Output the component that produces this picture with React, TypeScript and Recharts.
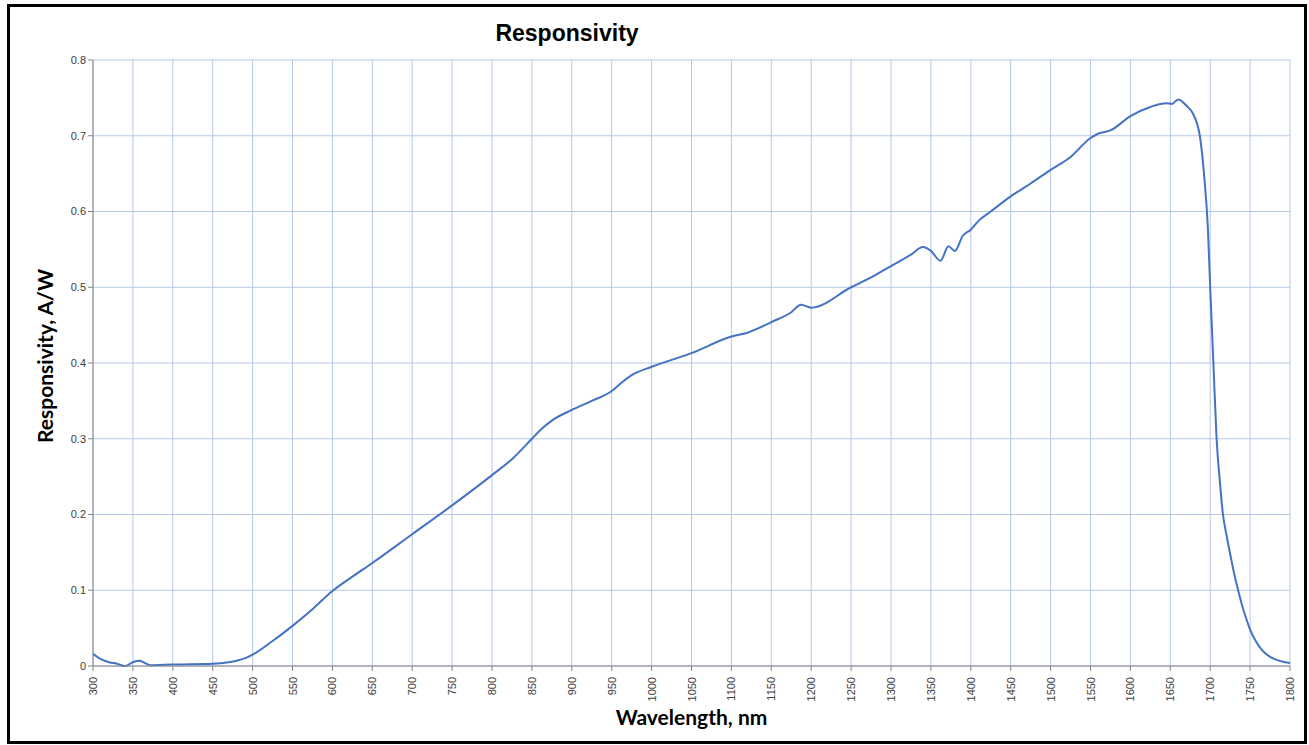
import { LineChart, Line, XAxis, YAxis, CartesianGrid, Label } from "recharts";

const wavelengths = [
  300, 310, 320, 330, 340, 350, 358, 365, 372, 400, 450, 470, 480, 490, 500,
  525, 550, 575, 600, 625, 650, 700, 750, 800, 825, 850, 862, 875, 900, 925,
  950, 960, 975, 1000, 1050, 1100, 1120, 1150, 1175, 1187, 1200, 1250, 1275,
  1300, 1325, 1340, 1350, 1362, 1372, 1380, 1390, 1400, 1410, 1425, 1450, 1475,
  1500, 1525, 1550, 1560, 1575, 1600, 1625, 1645, 1652, 1660, 1670, 1678, 1687,
  1693, 1697, 1700, 1704, 1708, 1712, 1716, 1720, 1725, 1730, 1735, 1740, 1745,
  1750, 1757, 1765, 1775, 1790, 1800,
];

const responsivity = [
  0.016, 0.009, 0.005, 0.003, 0.0, 0.005, 0.007, 0.004, 0.001, 0.002, 0.003,
  0.005, 0.007, 0.01, 0.015, 0.033, 0.053, 0.075, 0.099, 0.118, 0.136, 0.174,
  0.212, 0.252, 0.273, 0.3, 0.313, 0.324, 0.338, 0.35, 0.363, 0.372, 0.384,
  0.395, 0.413, 0.435, 0.44, 0.454, 0.467, 0.477, 0.473, 0.5, 0.513, 0.528,
  0.543, 0.553, 0.548, 0.535, 0.554, 0.548, 0.568, 0.576, 0.588, 0.6, 0.62,
  0.637, 0.655, 0.672, 0.697, 0.703, 0.707, 0.726, 0.738, 0.743, 0.742, 0.748,
  0.74, 0.73, 0.7, 0.64, 0.58, 0.5, 0.4, 0.3, 0.245, 0.2, 0.175, 0.148, 0.122,
  0.1, 0.08, 0.063, 0.048, 0.033, 0.021, 0.012, 0.006, 0.004,
];

const xTicks = [
  300, 350, 400, 450, 500, 550, 600, 650, 700, 750, 800, 850, 900, 950, 1000,
  1050, 1100, 1150, 1200, 1250, 1300, 1350, 1400, 1450, 1500, 1550, 1600, 1650,
  1700, 1750, 1800,
];
const yTicks = [0, 0.1, 0.2, 0.3, 0.4, 0.5, 0.6, 0.7, 0.8];

const data = wavelengths.map((w, i) => ({ w, r: responsivity[i] }));

const tickFont = "'Liberation Sans', Arial, sans-serif";
const labelFont = "Lato, 'Open Sans', sans-serif";

function XTick({ x, y, payload }: any) {
  return (
    <text
      transform={`translate(${x + 4}, ${y + 4}) rotate(-90)`}
      textAnchor="end"
      fontSize={11}
      fontFamily={tickFont}
      fill="#404040"
    >
      {payload.value}
    </text>
  );
}

function YTitle({ viewBox }: any) {
  const cy = viewBox.y + viewBox.height / 2 - 7;
  return (
    <text
      transform={`translate(34, ${cy}) rotate(-90)`}
      textAnchor="middle"
      dominantBaseline="central"
      fontFamily={labelFont}
      fontWeight="bold"
      fontSize={21}
      fill="#000"
    >
      Responsivity, A/W
    </text>
  );
}

export default function App() {
  return (
    <div
      style={{
        position: "absolute",
        left: 7,
        top: 4,
        width: 1300,
        height: 740,
        boxSizing: "border-box",
        border: "3px solid #000",
        background: "#fff",
      }}
    >
      <div
        style={{
          position: "absolute",
          left: 457,
          top: 13,
          width: 200,
          textAlign: "center",
          fontFamily: tickFont,
          fontWeight: "bold",
          fontSize: 23,
          color: "#000",
        }}
      >
        Responsivity
      </div>
      <LineChart
        width={1294}
        height={734}
        data={data}
        margin={{ top: 53, right: 14, left: 0, bottom: 0 }}
      >
        <CartesianGrid stroke="#b4c7e7" strokeWidth={1} />
        <XAxis
          dataKey="w"
          type="number"
          domain={[300, 1800]}
          ticks={xTicks}
          interval={0}
          height={75}
          tick={<XTick />}
          tickSize={5}
          stroke="#868686"
          tickLine={{ stroke: "#868686" }}
        >
          <Label
            value="Wavelength, nm"
            position="insideBottom"
            offset={16}
            style={{
              fontFamily: labelFont,
              fontWeight: "bold",
              fontSize: 21,
              fill: "#000",
            }}
          />
        </XAxis>
        <YAxis
          type="number"
          domain={[0, 0.8]}
          ticks={yTicks}
          interval={0}
          width={83}
          tickSize={5}
          stroke="#868686"
          tick={{ fontSize: 11, fontFamily: tickFont, fill: "#404040" }}
        >
          <Label content={<YTitle />} />
        </YAxis>
        <Line
          type="monotone"
          dataKey="r"
          stroke="#4472c4"
          strokeWidth={2}
          dot={false}
          isAnimationActive={false}
        />
      </LineChart>
    </div>
  );
}
